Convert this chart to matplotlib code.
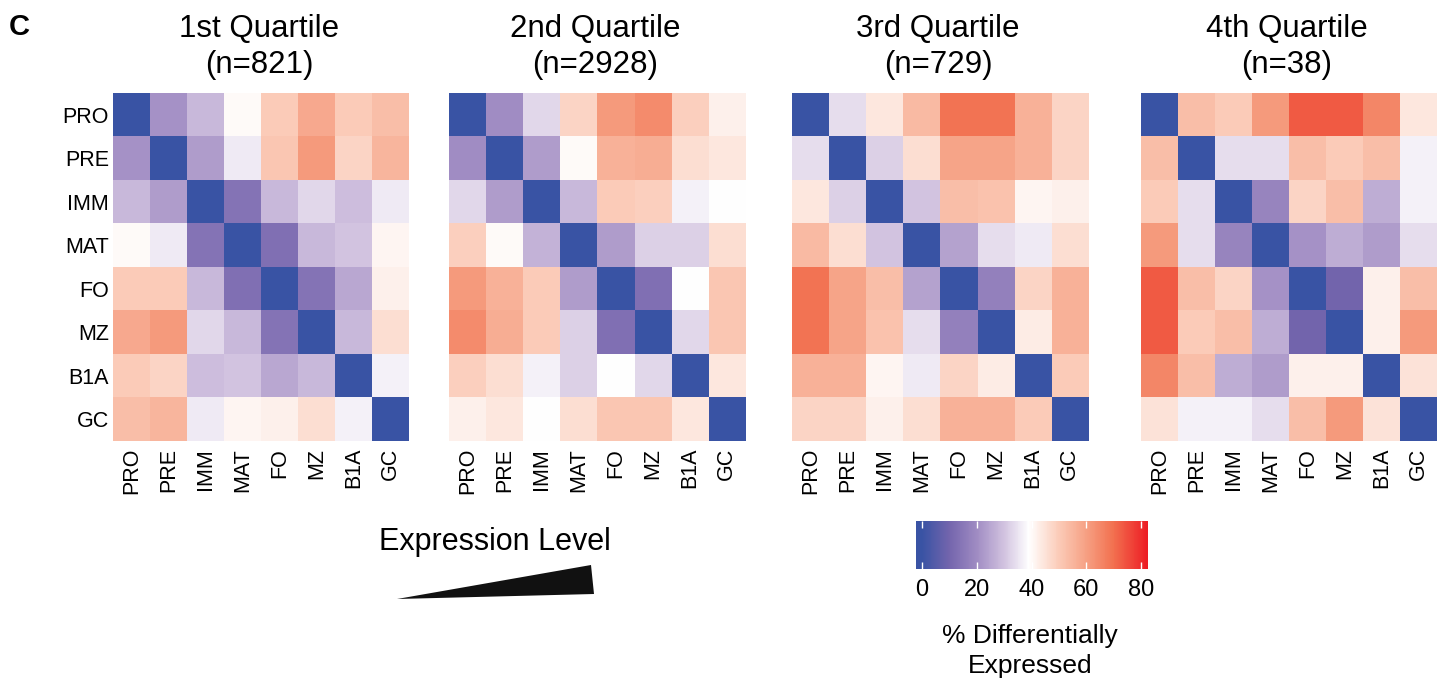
import numpy as np
import matplotlib
matplotlib.use("Agg")
import matplotlib.pyplot as plt
from matplotlib.colors import LinearSegmentedColormap, Normalize
from matplotlib.cm import ScalarMappable
from matplotlib.patches import Polygon

plt.rcParams["font.family"] = ["Liberation Sans", "DejaVu Sans"]

CELL_TYPES = ["PRO", "PRE", "IMM", "MAT", "FO", "MZ", "B1A", "GC"]
QUARTILE_TITLES = ["1st Quartile", "2nd Quartile", "3rd Quartile", "4th Quartile"]
QUARTILE_COUNTS = [821, 2928, 729, 38]

# % differentially expressed between cell types, one 8x8 matrix per quartile
Q1 = [
    [0, 21, 28, 40, 50, 58, 50, 53],
    [21, 0, 23, 36, 51, 61, 48, 55],
    [28, 23, 0, 14, 28, 33, 29, 36],
    [40, 36, 14, 0, 13, 28, 30, 41],
    [50, 50, 28, 13, 0, 14, 25, 42],
    [58, 61, 33, 28, 14, 0, 28, 46],
    [50, 48, 29, 30, 25, 28, 0, 37],
    [53, 55, 36, 41, 42, 46, 37, 0],
]
Q2 = [
    [0, 20, 33, 48, 61, 64, 49, 42],
    [20, 0, 23, 40, 56, 57, 46, 44],
    [33, 23, 0, 28, 50, 49, 37, 39],
    [49, 40, 27, 0, 23, 32, 32, 46],
    [61, 56, 50, 23, 0, 13, 39, 51],
    [64, 57, 50, 32, 13, 0, 33, 51],
    [49, 46, 37, 32, 39, 33, 0, 44],
    [42, 44, 39, 46, 51, 51, 44, 0],
]
Q3 = [
    [0, 34, 44, 54, 69, 69, 56, 48],
    [34, 0, 32, 46, 59, 59, 56, 48],
    [44, 32, 0, 30, 53, 52, 41, 42],
    [54, 46, 30, 0, 24, 34, 36, 46],
    [69, 59, 53, 24, 0, 17, 48, 56],
    [69, 59, 52, 34, 17, 0, 43, 56],
    [56, 56, 41, 36, 48, 43, 0, 50],
    [48, 48, 42, 46, 56, 56, 50, 0],
]
Q4 = [
    [0, 53, 50, 61, 73, 73, 65, 44],
    [53, 0, 34, 34, 53, 50, 53, 37],
    [50, 34, 0, 18, 48, 53, 26, 37],
    [61, 34, 18, 0, 21, 26, 23, 34],
    [73, 53, 48, 21, 0, 10, 42, 53],
    [73, 50, 53, 26, 10, 0, 42, 61],
    [65, 53, 26, 23, 42, 42, 0, 45],
    [45, 37, 37, 34, 53, 61, 45, 0],
]
MATRICES = [Q1, Q2, Q3, Q4]
CBAR_TICKS = [0, 20, 40, 60, 80]

VMIN, VMAX = -2.2, 82.5
W, H = 1448, 681


def px_box(left, top, right, bottom):
    return [left / W, 1 - bottom / H, (right - left) / W, (bottom - top) / H]


def make_cmap():
    anchors = [
        (-2.2, "#3953A4"),
        (0, "#3953A4"),
        (10, "#7465AD"),
        (20, "#A08CC3"),
        (30, "#D2C3E0"),
        (39, "#FFFFFF"),
        (50, "#FBCBB8"),
        (60, "#F6A083"),
        (70, "#F2704F"),
        (82.5, "#ED1C24"),
    ]
    return LinearSegmentedColormap.from_list(
        "de", [((v - VMIN) / (VMAX - VMIN), c) for v, c in anchors]
    )


def main() -> None:
    cmap = make_cmap()
    norm = Normalize(VMIN, VMAX)

    fig = plt.figure(figsize=(W / 100, H / 100), dpi=100)

    lefts = [113, 449, 792, 1141]
    for i, (mat, title, n) in enumerate(zip(MATRICES, QUARTILE_TITLES, QUARTILE_COUNTS)):
        ax = fig.add_axes(px_box(lefts[i], 93, lefts[i] + 296, 441))
        ax.imshow(np.array(mat), cmap=cmap, norm=norm, aspect="auto", interpolation="nearest")
        for s in ax.spines.values():
            s.set_visible(False)
        ax.set_xticks(range(len(CELL_TYPES)))
        ax.set_xticklabels(CELL_TYPES, rotation=90, fontsize=15.5)
        ax.tick_params(axis="both", length=0, pad=5)
        if i == 0:
            ax.set_yticks(range(len(CELL_TYPES)))
            ax.set_yticklabels(CELL_TYPES, fontsize=15.5)
            ax.tick_params(axis="y", pad=3)
        else:
            ax.set_yticks([])

        cx = (lefts[i] + 146) / W
        fig.text(cx, 1 - 37 / H, title, ha="center", va="baseline", fontsize=22.5)
        fig.text(cx, 1 - 73 / H, f"(n={n})", ha="center", va="baseline", fontsize=22.5)

    # Panel letter
    fig.text(9 / W, 1 - 35 / H, "C", fontsize=21, fontweight="bold", va="baseline")

    # Expression level wedge
    fig.text(495 / W, 1 - 550 / H, "Expression Level", ha="center", va="baseline", fontsize=22)
    wedge = Polygon(
        [(397 / W, 1 - 599 / H), (591 / W, 1 - 565 / H), (594 / W, 1 - 594 / H)],
        closed=True, transform=fig.transFigure, facecolor="#111111", edgecolor="none",
    )
    fig.patches.append(wedge)

    # Colorbar
    cax = fig.add_axes(px_box(916, 521, 1148, 569))
    cb = fig.colorbar(ScalarMappable(norm=norm, cmap=cmap), cax=cax, orientation="horizontal")
    cb.outline.set_visible(False)
    cb.set_ticks(CBAR_TICKS)
    cax.tick_params(axis="x", direction="in", colors="white", length=5, width=1,
                    top=True, bottom=True, pad=7, labelsize=17, labelcolor="black")
    fig.text(1030 / W, 1 - 643 / H, "% Differentially", ha="center", va="baseline", fontsize=19)
    fig.text(1030 / W, 1 - 673 / H, "Expressed", ha="center", va="baseline", fontsize=19)

    fig.savefig("out.png", dpi=100)


if __name__ == "__main__":
    main()
